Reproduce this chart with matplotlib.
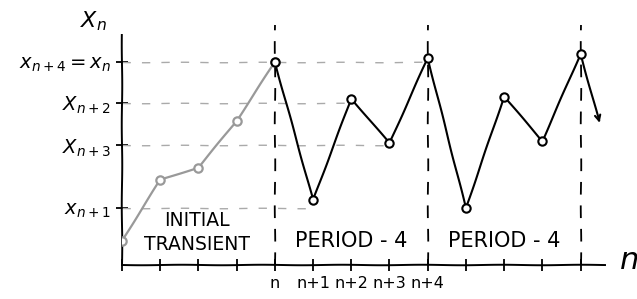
import matplotlib
matplotlib.use("Agg")
import matplotlib.pyplot as plt

# ---- data ----
transient_n = [0, 1, 2, 3, 4]
transient_x = [0.12, 0.42, 0.48, 0.71, 1.00]
period_n = [4, 5, 6, 7, 8, 9, 10, 11, 12]
period_x = [1.00, 0.32, 0.82, 0.60, 1.02, 0.28, 0.83, 0.61, 1.04]
arrow_end = (12.5, 0.70)

level_names = ["$x_{n+4} = x_n$", "$X_{n+2}$", "$X_{n+3}$", "$x_{n+1}$"]
level_values = [1.00, 0.80, 0.59, 0.28]
level_extent = [8, 6, 7, 5]          # guide lines run to these n

xtick_pos = list(range(0, 13))
xtick_labels = ["", "", "", "", "n", "n+1", "n+2", "n+3", "n+4", "", "", "", ""]
period_marks = [4, 8, 12]

plt.rcParams["font.family"] = ["DejaVu Sans"]
plt.rcParams["path.sketch"] = (0.25, 80, 1)

fig = plt.figure(figsize=(6.37, 2.99), dpi=100)
ax = fig.add_axes([122/637, 34/299, 483/637, 230/299])
ax.set_xlim(0, 12.64)
ax.set_ylim(0, 1.133)

for s in ["top", "right"]:
    ax.spines[s].set_visible(False)
for s in ["left", "bottom"]:
    ax.spines[s].set_linewidth(1.4)
    ax.spines[s].set_color("black")

# horizontal dashed guides
for v, e in zip(level_values, level_extent):
    ax.plot([0, e], [v, v], color="#aaaaaa", lw=1.0, dashes=(6, 8))

# vertical dashed period markers
for p in period_marks:
    ax.plot([p, p], [0, 1.18], color="black", lw=1.3, dashes=(7, 6), clip_on=False)

# transient
ax.plot(transient_n, transient_x, color="#999999", lw=1.6, marker="o", ms=6,
        mfc="white", mec="#999999", mew=1.6, zorder=3)
# periodic
ax.plot(period_n, period_x, color="black", lw=1.5, marker="o", ms=6,
        mfc="white", mec="black", mew=1.5, zorder=4)
ax.annotate("", xy=arrow_end, xytext=(period_n[-1], period_x[-1]),
            arrowprops=dict(arrowstyle="->", color="black", lw=1.5,
                            shrinkA=3, shrinkB=0))

ax.set_yticks(level_values)
ax.set_yticklabels(level_names, fontsize=14)
ax.set_xticks(xtick_pos)
ax.set_xticklabels(xtick_labels, fontsize=11.5)
ax.tick_params(axis="both", direction="inout", length=9, width=1.3)

ax.text(-0.75, 1.2, "$X_n$", fontsize=16, ha="center", va="center", clip_on=False)
ax.text(13.25, 0.02, "$n$", fontsize=22, ha="center", va="center", clip_on=False)

ax.text(1.95, 0.22, "INITIAL", fontsize=13.5, ha="center", va="center")
ax.text(1.95, 0.10, "TRANSIENT", fontsize=13.5, ha="center", va="center")
ax.text(6.0, 0.12, "PERIOD - 4", fontsize=15, ha="center", va="center")
ax.text(10.0, 0.12, "PERIOD - 4", fontsize=15, ha="center", va="center")

fig.savefig("out.png", dpi=100)
